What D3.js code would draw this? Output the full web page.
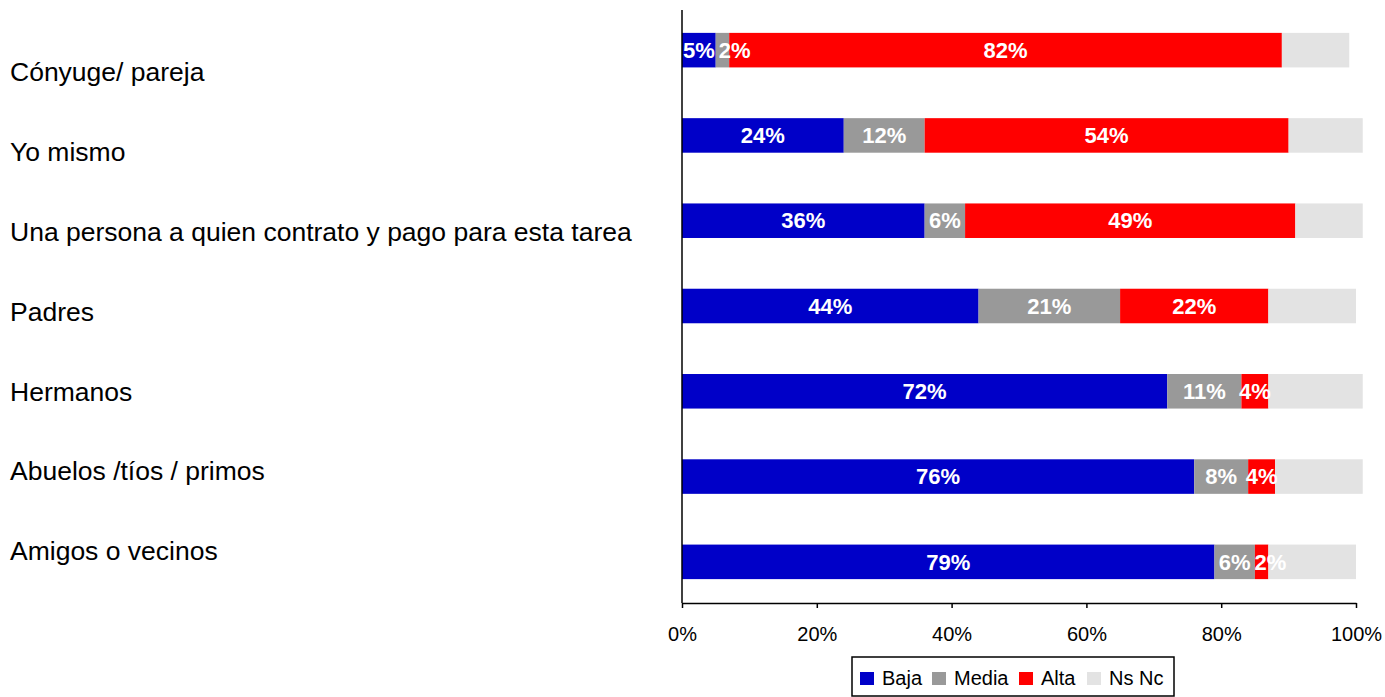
<!DOCTYPE html>
<html>
<head>
<meta charset="utf-8">
<script src="https://cdn.jsdelivr.net/npm/d3@7"></script>
<style>
  body { margin: 0; background: #fff; }
  text { font-family: "Liberation Sans", Arial, sans-serif; }
</style>
</head>
<body>
<svg id="chart" width="1385" height="697"></svg>
<script>
// data
var categories = ['Cónyuge/ pareja', 'Yo mismo', 'Una persona a quien contrato y pago para esta tarea',
  'Padres', 'Hermanos', 'Abuelos /tíos / primos', 'Amigos o vecinos'];
var seriesNames = ['Baja', 'Media', 'Alta', 'Ns Nc'];
var baja  = [5, 24, 36, 44, 72, 76, 79];
var media = [2, 12, 6, 21, 11, 8, 6];
var alta  = [82, 54, 49, 22, 4, 4, 2];
var nsnc  = [10, 11, 10, 13, 14, 13, 13];
var colors = ['#0000c8', '#999999', '#ff0000', '#e3e3e3'];
var xTicks = [0, 20, 40, 60, 80, 100];

var svg = d3.select('#chart');

var x = d3.scaleLinear().domain([0, 100]).range([682, 1356]);
var y = d3.scaleBand().domain(categories).range([9, 603]).paddingInner(0.595).paddingOuter(0.28);
var yLabel = d3.scalePoint().domain(categories).range([72, 551]);

var rows = categories.map(function(c, i) {
  return {cat: c, Baja: baja[i], Media: media[i], Alta: alta[i], 'Ns Nc': nsnc[i]};
});
var stacked = d3.stack().keys(seriesNames)(rows);

// category labels
svg.append('g').selectAll('text')
  .data(categories)
  .enter().append('text')
  .attr('x', 10)
  .attr('y', function(d) { return yLabel(d); })
  .attr('dy', '0.35em')
  .style('font-size', '26.5px')
  .style('fill', '#000')
  .text(function(d) { return d; });

// bars
var layers = svg.append('g').selectAll('g')
  .data(stacked)
  .enter().append('g')
  .attr('fill', function(d, i) { return colors[i]; });

layers.selectAll('rect')
  .data(function(d) { return d; })
  .enter().append('rect')
  .attr('x', function(d) { return x(d[0]); })
  .attr('y', function(d) { return y(d.data.cat); })
  .attr('width', function(d) { return x(d[1]) - x(d[0]); })
  .attr('height', y.bandwidth());

// value labels (Ns Nc labels are not shown), drawn on top
var labelG = svg.append('g');
rows.forEach(function(row, r) {
  var prevEnd = -Infinity;
  stacked.slice(0, 3).forEach(function(s) {
    var seg = s[r];
    var t = labelG.append('text')
      .attr('y', y(row.cat) + y.bandwidth() / 2)
      .attr('dy', '0.35em')
      .style('text-anchor', 'middle')
      .style('font-size', '22px')
      .style('font-weight', 'bold')
      .style('fill', '#fff')
      .text(row[s.key] + '%');
    var w = t.node().getComputedTextLength();
    var cx = Math.max(x((seg[0] + seg[1]) / 2), prevEnd + 4 + w / 2);
    t.attr('x', cx);
    prevEnd = cx + w / 2;
  });
});

// axes
var xAxis = d3.axisBottom(x).tickValues(xTicks).tickSize(5).tickSizeOuter(0)
  .tickFormat(function(d) { return d + '%'; });
var gx = svg.append('g').attr('transform', 'translate(0,603)').call(xAxis);
gx.select('.domain').attr('stroke', '#000').attr('stroke-width', 1.5);
gx.selectAll('.tick line').attr('stroke', '#000').attr('stroke-width', 1.5);
gx.selectAll('.tick text')
  .attr('y', 24)
  .style('font-family', '"Liberation Sans", Arial, sans-serif')
  .style('font-size', '20px')
  .style('fill', '#000');

svg.append('line')
  .attr('x1', x(0)).attr('x2', x(0))
  .attr('y1', 10).attr('y2', 603)
  .attr('stroke', '#000').attr('stroke-width', 1.5);

// legend
var legend = svg.append('g').attr('transform', 'translate(852,657)');
legend.append('rect')
  .attr('x', 0).attr('y', 0).attr('width', 322).attr('height', 39)
  .attr('fill', '#fff').attr('stroke', '#000').attr('stroke-width', 1.5);
var legendX = [8, 80, 167, 235];
var items = legend.selectAll('g.item')
  .data(seriesNames)
  .enter().append('g')
  .attr('class', 'item')
  .attr('transform', function(d, i) { return 'translate(' + legendX[i] + ',0)'; });
items.append('rect')
  .attr('x', 0).attr('y', 15).attr('width', 14).attr('height', 13)
  .attr('fill', function(d, i) { return colors[i]; });
items.append('text')
  .attr('x', 22).attr('y', 28)
  .style('font-size', '20px')
  .text(function(d) { return d; });
</script>
</body>
</html>
